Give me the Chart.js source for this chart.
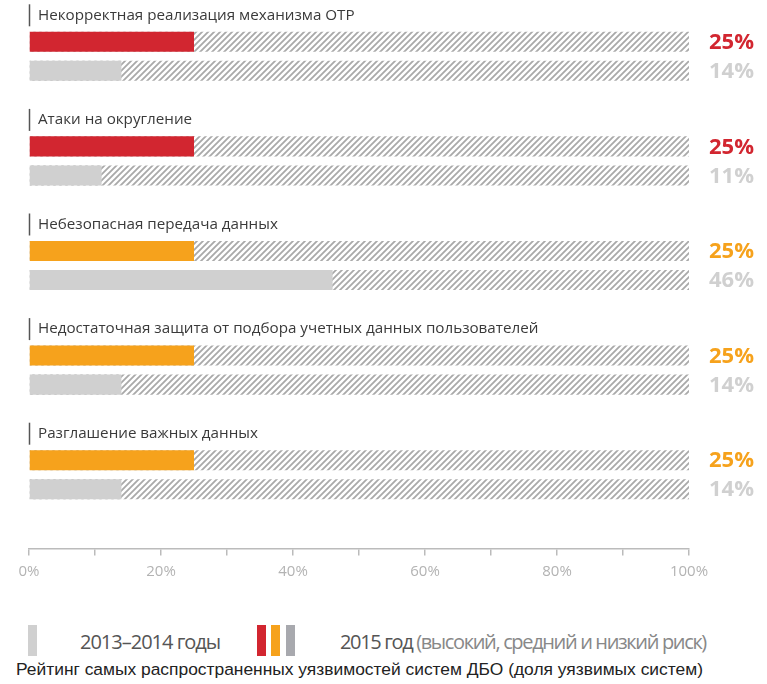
<!DOCTYPE html>
<html>
<head>
<meta charset="utf-8">
<script src="https://cdn.jsdelivr.net/npm/chart.js@4.4.1/dist/chart.umd.min.js"></script>
<style>
  body { margin: 0; background: #fff; }
  #wrap { position: relative; width: 767px; height: 684px; }
  #chart { position: absolute; left: 0; top: 0; }
  .sw { position: absolute; width: 9px; height: 31px; top: 625px; }
  .lg { position: absolute; top: 628px; font-family: "Open Sans", sans-serif; font-size: 20px; letter-spacing: -1px; color: #555; white-space: nowrap; }
  .lg span { color: #888; }
  #caption { position: absolute; left: 16px; top: 659px; font-family: "Liberation Sans", Arial, sans-serif; font-size: 17.4px; color: #222; white-space: nowrap; }
</style>
</head>
<body>
<div id="wrap">
  <canvas id="chart" width="767" height="600"></canvas>
  <div class="sw" style="left:28px;background:#d0d0d0"></div>
  <div class="lg" style="left:80px">2013–2014 годы</div>
  <div class="sw" style="left:257px;background:#d22630"></div>
  <div class="sw" style="left:271px;background:#f6a21c"></div>
  <div class="sw" style="left:286px;background:#a8a9ae"></div>
  <div class="lg" style="left:340px;letter-spacing:-1.35px">2015 год <span>(высокий, средний и низкий риск)</span></div>
  <div id="caption">Рейтинг самых распространенных уязвимостей систем ДБО (доля уязвимых систем)</div>
</div>
<script>
const categories = [
    'Некорректная реализация механизма OTP',
    'Атаки на округление',
    'Небезопасная передача данных',
    'Недостаточная защита от подбора учетных данных пользователей',
    'Разглашение важных данных'
];
const values2015 = [25, 25, 25, 25, 25];
const values2013 = [14, 11, 46, 14, 14];
const risk2015 = ['high', 'high', 'medium', 'medium', 'medium'];
const trackMax = [100, 100, 100, 100, 100];
const xTicks = [0, 20, 40, 60, 80, 100];
const xMinorTicks = [0, 10, 20, 30, 40, 50, 60, 70, 80, 90, 100];

const riskColors = { high: '#d22630', medium: '#f6a21c', low: '#a8a9ae' };
const oldColor = '#d0d0d0';

function makeHatch() {
    const c = document.createElement('canvas');
    c.width = 6;
    c.height = 6;
    const g = c.getContext('2d');
    g.fillStyle = '#fff';
    g.fillRect(0, 0, 6, 6);
    g.strokeStyle = '#a9a9a9';
    g.lineWidth = 1.8;
    g.beginPath();
    g.moveTo(-1, 7); g.lineTo(7, -1);
    g.moveTo(-1, 1); g.lineTo(1, -1);
    g.moveTo(5, 7); g.lineTo(7, 5);
    g.stroke();
    return g.createPattern(c, 'repeat');
}
const hatch = makeHatch();

// подписи категорий и процентов справа
const labelsPlugin = {
    id: 'rowLabels',
    afterDatasetsDraw(chart) {
        const ctx = chart.ctx;
        const area = chart.chartArea;
        const y = chart.scales.y;
        ctx.save();
        categories.forEach((name, i) => {
            const ly = y.getPixelForValue(i) - 41;
            ctx.strokeStyle = '#555';
            ctx.lineWidth = 1.5;
            ctx.beginPath();
            ctx.moveTo(area.left + 0.5, ly - 11);
            ctx.lineTo(area.left + 0.5, ly + 11);
            ctx.stroke();
            ctx.fillStyle = '#3a3a3a';
            ctx.font = '15.2px "Open Sans"';
            ctx.textBaseline = 'middle';
            ctx.textAlign = 'left';
            ctx.fillText(name, area.left + 9, ly);
        });
        const newMeta = chart.getDatasetMeta(1);
        const oldMeta = chart.getDatasetMeta(3);
        ctx.font = 'bold 22px "Open Sans"';
        ctx.textBaseline = 'middle';
        newMeta.data.forEach((bar, i) => {
            ctx.fillStyle = riskColors[risk2015[i]];
            ctx.fillText(values2015[i] + '%', area.right + 20, bar.y + 1);
        });
        oldMeta.data.forEach((bar, i) => {
            ctx.fillStyle = oldColor;
            ctx.fillText(values2013[i] + '%', area.right + 20, bar.y + 1);
        });
        ctx.restore();
    }
};

new Chart(document.getElementById('chart'), {
    type: 'bar',
    data: {
        labels: categories,
        datasets: [
            { label: 'track2015', data: trackMax, stack: 'new', backgroundColor: hatch, order: 2 },
            { label: '2015', data: values2015, stack: 'new', backgroundColor: risk2015.map(r => riskColors[r]), order: 1 },
            { label: 'track2013', data: trackMax, stack: 'old', backgroundColor: hatch, order: 2 },
            { label: '2013–2014', data: values2013, stack: 'old', backgroundColor: oldColor, order: 1 }
        ]
    },
    options: {
        indexAxis: 'y',
        responsive: false,
        animation: false,
        categoryPercentage: 0.555,
        barPercentage: 0.69,
        layout: { padding: { left: 29, right: 78, top: 4, bottom: 73 } },
        plugins: { legend: { display: false }, tooltip: { enabled: false } },
        scales: {
            y: { display: false },
            x: {
                stacked: false,
                position: { y: 4.71 },
                min: 0,
                max: 100,
                grid: { drawOnChartArea: false, drawTicks: true, tickLength: 6, color: '#bbb', lineWidth: 1.5 },
                border: { color: '#bbb', width: 1.5 },
                afterBuildTicks(scale) {
                    scale.ticks = xMinorTicks.map(v => ({ value: v }));
                },
                ticks: {
                    padding: 8,
                    color: '#b3b3b3',
                    font: { family: 'Open Sans', size: 15 },
                    callback: v => xTicks.includes(v) ? v + '%' : ''
                }
            }
        }
    },
    plugins: [labelsPlugin]
});
</script>
</body>
</html>
